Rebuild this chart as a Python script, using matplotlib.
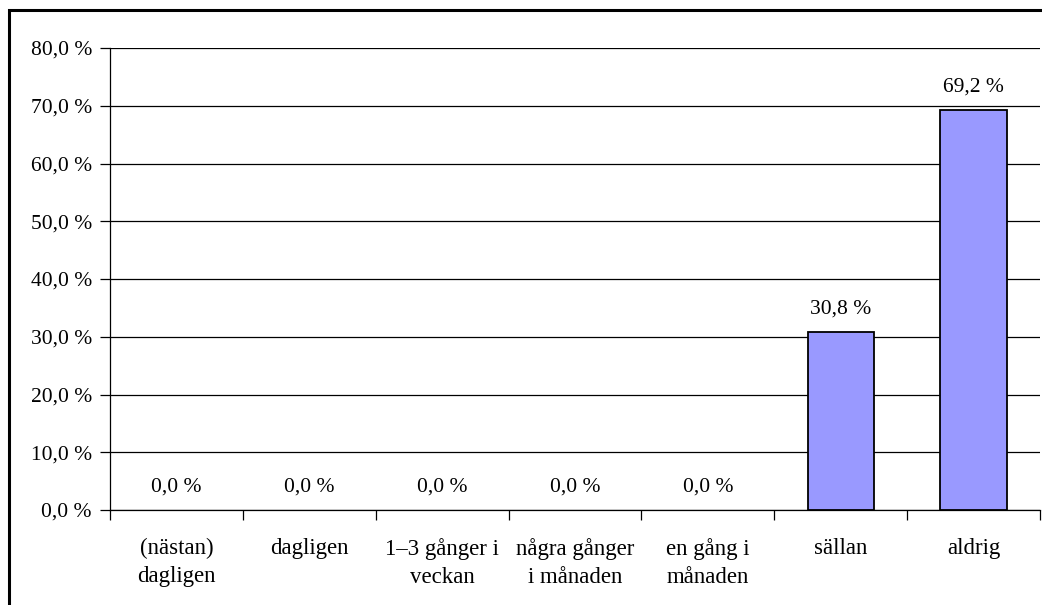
import numpy as np
import matplotlib.pyplot as plt
from matplotlib.patches import Rectangle
from matplotlib.ticker import FixedLocator

# Svarsalternativ och andelar (procent)
kategorier = ['(nästan)\ndagligen', 'dagligen', '1–3 gånger i\nveckan',
              'några gånger\ni månaden', 'en gång i\nmånaden', 'sällan', 'aldrig']
andel = [0.0, 0.0, 0.0, 0.0, 0.0, 30.8, 69.2]
y_ticks = [0, 10, 20, 30, 40, 50, 60, 70, 80]

plt.rcParams['font.family'] = ['Liberation Serif', 'DejaVu Serif']
fs = 15.5

fig = plt.figure(figsize=(10.42, 6.05), dpi=100)
ax = fig.add_axes([0.1056, 0.157, 0.8925, 0.7636])

x = np.arange(len(kategorier))
# staplar med värdet 0 ritas utan kantlinje
kant = [1.3 if v > 0 else 0 for v in andel]
ax.bar(x, andel, width=0.5, color='#9999FF', edgecolor='black', linewidth=kant, zorder=3)

for xi, v in zip(x, andel):
    ax.annotate(f'{v:.1f} %'.replace('.', ','), (xi, v), xytext=(0, 10),
                textcoords='offset points', ha='center', va='bottom', fontsize=fs)

ax.set_xlim(-0.5, len(kategorier) - 0.5)
ax.set_ylim(0, 80)
ax.set_yticks(y_ticks)
ax.set_yticklabels([f'{t:.1f} %'.replace('.', ',') for t in y_ticks], fontsize=fs)
ax.yaxis.grid(True, color='black', linewidth=0.9)
ax.set_axisbelow(True)

# kategorinamn i mitten, streck mellan kategorierna
ax.set_xticks(x)
ax.set_xticklabels(kategorier, fontsize=16.5, linespacing=1.45, va='top')
ax.tick_params(axis='x', length=0, pad=20)
ax.xaxis.set_minor_locator(FixedLocator(np.arange(-0.5, len(kategorier), 1.0)))
ax.tick_params(axis='x', which='minor', length=7, width=0.9, direction='out')
ax.tick_params(axis='y', length=7, width=0.9, direction='out', pad=6)

for s in ['top', 'right']:
    ax.spines[s].set_visible(False)
for s in ['left', 'bottom']:
    ax.spines[s].set_linewidth(0.9)

# ram runt diagrammet
fig.patches.append(Rectangle((9 / 1042, -0.1), 1.2, 1 - 10 / 605 + 0.1,
                             transform=fig.transFigure, fill=False,
                             edgecolor='black', linewidth=2.2))

fig.savefig('out.png', dpi=100)
